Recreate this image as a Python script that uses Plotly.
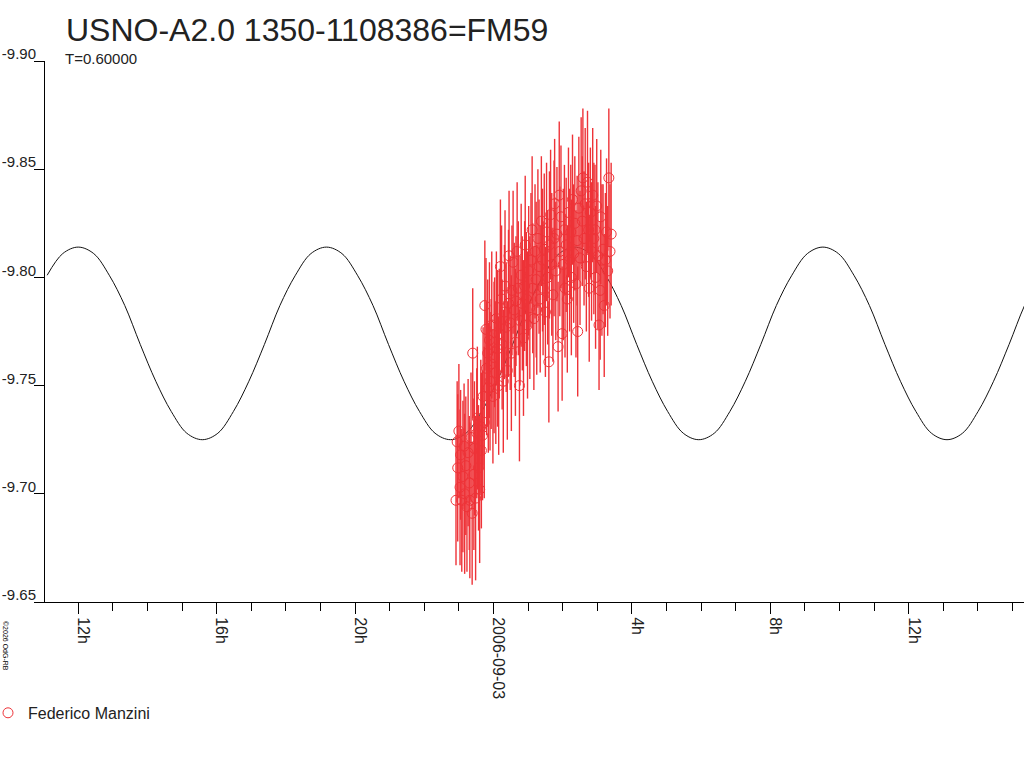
import pandas as pd
import plotly.graph_objects as go

# ---- observations: minutes after 2006-09-03 00:00 UT, magnitude, error ----
obs_minutes = [
    -65, -63, -62, -60, -58, -57, -55, -53, -51, -50, -48, -46, -44, -42, -41,
    -39, -37, -36, -34, -33, -31, -29, -28, -26, -24, -22, -21, -19, -18, -16,
    -15, -13, -12, -10, -9, -7, -6, -4, -3, -1, 1, 2, 4, 5, 7, 9, 10,
    12, 14, 15, 17, 19, 20, 22, 24, 26, 27, 29, 31, 32, 34, 36, 38, 39, 41, 43,
    45, 46, 48, 50, 52, 54, 55, 57, 59, 61, 63,
    65, 67, 68, 70, 72, 74, 75, 77, 79, 81, 83, 85, 86, 88, 90, 92, 94, 96, 97,
    99, 101, 103, 105, 106, 108,
    110, 112, 114, 115, 117, 119, 121, 123, 124, 126, 128, 130, 132, 134, 135,
    137, 139, 141, 143, 145, 146, 148,
    150, 152, 154, 155, 157, 159, 161, 163, 165, 166, 168, 170, 172, 174, 176,
    177, 179, 181, 183, 185, 186, 188, 190, 192, 194, 196, 198, 200, 202, 204,
]
obs_mag = [
    -9.697, -9.724, -9.712, -9.729, -9.703, -9.718, -9.697, -9.708, -9.722, -9.700,
    -9.713, -9.694, -9.719, -9.705, -9.697, -9.726, -9.691, -9.765, -9.709, -9.721,
    -9.698, -9.728, -9.735, -9.712, -9.702, -9.731, -9.720, -9.727, -9.745, -9.733,
    -9.787, -9.776, -9.758, -9.765, -9.749, -9.771, -9.752, -9.760, -9.778, -9.745,
    -9.763, -9.770, -9.756, -9.781, -9.767, -9.750, -9.774,
    -9.805, -9.790, -9.769, -9.752, -9.784, -9.796, -9.777, -9.757, -9.788, -9.810,
    -9.779, -9.765, -9.794, -9.807, -9.785, -9.770, -9.789, -9.812, -9.795,
    -9.750, -9.780, -9.801, -9.788, -9.772, -9.796, -9.815, -9.790, -9.778, -9.803,
    -9.786,
    -9.808, -9.822, -9.795, -9.781, -9.812, -9.799, -9.785, -9.818, -9.805, -9.790,
    -9.826, -9.808, -9.795, -9.813, -9.784, -9.821, -9.800, -9.761, -9.815, -9.829,
    -9.806, -9.792, -9.818, -9.834, -9.803,
    -9.820, -9.768, -9.838, -9.812, -9.828, -9.774, -9.806, -9.822, -9.795, -9.815,
    -9.790, -9.830, -9.808, -9.821, -9.800, -9.836, -9.811, -9.825, -9.797, -9.817,
    -9.775, -9.832,
    -9.809, -9.840, -9.826, -9.846, -9.818, -9.834, -9.805, -9.844, -9.822, -9.795,
    -9.830, -9.812, -9.838, -9.818, -9.822, -9.800, -9.833, -9.810, -9.778, -9.794,
    -9.828, -9.808, -9.813, -9.787, -9.808, -9.821, -9.803, -9.846, -9.812, -9.820,
]
obs_err = [
    0.030, 0.028, 0.034, 0.031, 0.036, 0.030, 0.033, 0.035, 0.029, 0.037,
    0.032, 0.030, 0.034, 0.031, 0.036, 0.030, 0.033, 0.030, 0.035, 0.031,
    0.038, 0.030, 0.033, 0.029, 0.034, 0.031, 0.036, 0.030, 0.032, 0.035,
    0.030, 0.033, 0.031, 0.034, 0.030, 0.036, 0.032, 0.030, 0.034, 0.031,
    0.035, 0.030, 0.033, 0.031, 0.036, 0.032, 0.030,
    0.031, 0.034, 0.030, 0.033, 0.031, 0.035, 0.030, 0.032, 0.034, 0.030,
    0.031, 0.036, 0.030, 0.033, 0.031, 0.034, 0.030, 0.032, 0.031,
    0.035, 0.030, 0.033, 0.031, 0.036, 0.030, 0.032, 0.031, 0.034, 0.030,
    0.033,
    0.031, 0.034, 0.030, 0.033, 0.031, 0.036, 0.030, 0.032, 0.031, 0.034,
    0.030, 0.033, 0.031, 0.035, 0.030, 0.032, 0.031, 0.028, 0.034, 0.030,
    0.033, 0.031, 0.036, 0.030, 0.032,
    0.031, 0.030, 0.034, 0.030, 0.033, 0.031, 0.035, 0.030, 0.032, 0.031,
    0.034, 0.030, 0.033, 0.031, 0.036, 0.030, 0.032, 0.031, 0.034, 0.030,
    0.030, 0.033,
    0.031, 0.034, 0.030, 0.032, 0.031, 0.035, 0.030, 0.033, 0.031, 0.034,
    0.030, 0.032, 0.031, 0.035, 0.030, 0.033, 0.031, 0.034, 0.030, 0.032,
    0.031, 0.035, 0.030, 0.033, 0.031, 0.034, 0.030, 0.032, 0.031, 0.033,
]

# ---- fitted light curve (hours after 2006-09-03 00:00) ----
fit_hours = [
    -12.897, -12.448, -12.000, -11.552, -11.103, -10.655, -10.207, -9.758,
    -9.310, -8.862, -8.414, -7.965, -7.517, -7.069, -6.620, -6.172,
    -5.724, -5.276, -4.827, -4.379, -3.931, -3.482, -3.034, -2.586,
    -2.137, -1.689, -1.241, -0.793, -0.344, 0.104, 0.552, 1.001,
    1.449, 1.897, 2.346, 2.794, 3.242, 3.690, 4.139, 4.587,
    5.035, 5.484, 5.932, 6.380, 6.829, 7.277, 7.725, 8.173,
    8.622, 9.070, 9.518, 9.967, 10.415, 10.863, 11.312, 11.760,
    12.208, 12.656, 13.105, 13.553, 14.001, 14.450, 14.898, 15.346, 15.794,
]
fit_mag = [
    -9.801, -9.811, -9.814, -9.811, -9.801, -9.787, -9.769, -9.752,
    -9.738, -9.728, -9.725, -9.728, -9.738, -9.752, -9.769, -9.787,
    -9.801, -9.811, -9.814, -9.811, -9.801, -9.787, -9.769, -9.752,
    -9.738, -9.728, -9.725, -9.728, -9.738, -9.752, -9.769, -9.787,
    -9.801, -9.811, -9.814, -9.811, -9.801, -9.787, -9.769, -9.752,
    -9.738, -9.728, -9.725, -9.728, -9.738, -9.752, -9.769, -9.787,
    -9.801, -9.811, -9.814, -9.811, -9.801, -9.787, -9.769, -9.752,
    -9.738, -9.728, -9.725, -9.728, -9.738, -9.752, -9.769, -9.787, -9.801,
]

# ---- axis ticks ----
tick_times = ["2006-09-02 12:00", "2006-09-02 16:00", "2006-09-02 20:00",
              "2006-09-03 00:00", "2006-09-03 04:00", "2006-09-03 08:00",
              "2006-09-03 12:00"]
tick_labels = ["12h", "16h", "20h", "2006-09-03", "4h", "8h", "12h"]
y_ticks = [-9.90, -9.85, -9.80, -9.75, -9.70, -9.65]
y_tick_labels = ["-9.90", "-9.85", "-9.80", "-9.75", "-9.70", "-9.65"]

base = pd.Timestamp("2006-09-03 00:00")
obs_t = [base + pd.Timedelta(minutes=m) for m in obs_minutes]
fit_t = [base + pd.Timedelta(hours=h) for h in fit_hours]

RED = "#ee3338"
TXT = "#222222"
FONT = "Liberation Sans, Arial, sans-serif"

W, H = 1024, 768
L, R, T, B = 45, 0, 60.5, 166
pw, ph = W - L - R, H - T - B

def px(x):
    return (x - L) / pw

def py(y):
    return (H - B - y) / ph

fig = go.Figure()
fig.add_trace(go.Scatter(
    x=fit_t, y=fit_mag, mode="lines",
    line=dict(color="#111111", width=1, shape="spline"),
    showlegend=False, hoverinfo="skip",
))
fig.add_trace(go.Scatter(
    x=obs_t, y=obs_mag, mode="markers", name="Federico Manzini",
    marker=dict(symbol="circle-open", size=10, color=RED, line=dict(width=1, color=RED)),
    error_y=dict(type="data", array=obs_err, visible=True, color=RED, thickness=1.4, width=0),
))

fig.update_layout(
    width=W, height=H,
    margin=dict(l=L, r=R, t=T, b=B, autoexpand=False),
    paper_bgcolor="white", plot_bgcolor="white",
    font=dict(family=FONT, size=16, color=TXT),
    showlegend=True,
    legend=dict(x=px(-12), y=py(713), xanchor="left", yanchor="middle",
                font=dict(family=FONT, size=16, color=TXT),
                bgcolor="rgba(0,0,0,0)"),
    xaxis=dict(
        type="date",
        range=["2006-09-02 11:02:24", "2006-09-03 15:19:48"],
        showgrid=False, zeroline=False,
        showline=True, linecolor="black", linewidth=1,
        tickmode="array", tickvals=tick_times, ticktext=tick_labels,
        ticks="outside", ticklen=11, tickcolor="black", tickwidth=1,
        tickangle=90, ticklabelshift=5,
        tickfont=dict(family=FONT, size=16, color=TXT),
        minor=dict(tickmode="linear", tick0="2006-09-02 00:00", dtick=3600000,
                   ticks="outside", ticklen=8, tickcolor="black", tickwidth=1,
                   showgrid=False),
    ),
    yaxis=dict(
        range=[-9.65, -9.90],
        showgrid=False, zeroline=False,
        showline=True, linecolor="black", linewidth=1,
        tickmode="array", tickvals=y_ticks, ticktext=y_tick_labels,
        ticks="outside", ticklen=10, tickcolor="black", tickwidth=1,
        ticklabelstandoff=-5, ticklabelshift=7,
        tickfont=dict(family=FONT, size=15, color=TXT),
    ),
    annotations=[
        dict(text="USNO-A2.0 1350-1108386=FM59", xref="paper", yref="paper",
             x=px(64), y=py(29.5), xanchor="left", yanchor="middle",
             showarrow=False, font=dict(family=FONT, size=32, color=TXT)),
        dict(text="T=0.60000", xref="paper", yref="paper",
             x=px(63), y=py(57.5), xanchor="left", yanchor="middle",
             showarrow=False, font=dict(family=FONT, size=15, color=TXT)),
        dict(text="©2026 OdG-RB", xref="paper", yref="paper",
             x=px(5), y=py(646), xanchor="center", yanchor="middle",
             textangle=90, showarrow=False,
             font=dict(family=FONT, size=7, color="black")),
    ],
)

fig.write_html("out.html", config={"displayModeBar": False},
               post_script="document.body.style.margin='0';document.body.style.padding='0';")
